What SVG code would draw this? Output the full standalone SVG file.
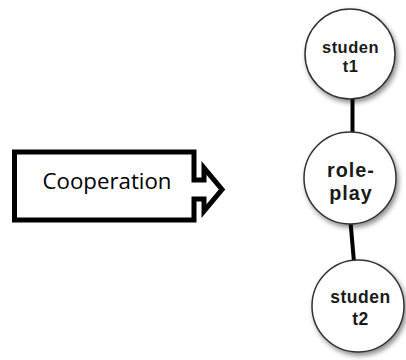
<svg xmlns="http://www.w3.org/2000/svg" width="406" height="360" viewBox="0 0 406 360">
<style>
.node circle{fill:#fff;stroke:#333;stroke-width:1.5;filter:url(#sh)}
.lbl{font-family:"Liberation Sans",Arial,sans-serif;font-weight:bold;fill:#1a1a1a;text-anchor:middle}
.conn{stroke:#000;stroke-width:4;fill:none}
</style>
<defs>
<filter id="sh" x="-20%" y="-20%" width="150%" height="150%">
<feDropShadow dx="2" dy="3" stdDeviation="2.5" flood-color="#000" flood-opacity="0.45"/>
</filter>
</defs>
<rect width="406" height="360" fill="#fff"/>
<g id="cooperation">
<path d="M14.5,152 H194 V180 H204 V168 L222,189.5 L204,211 V199 H194 V220 H14.5 Z" fill="#fff" stroke="#000" stroke-width="5" stroke-linejoin="miter"/>
<text x="107" y="189" font-family="'Open Sans','Noto Sans',sans-serif" font-size="22" fill="#000" text-anchor="middle" textLength="129" lengthAdjust="spacingAndGlyphs">Cooperation</text>
</g>
<g id="connectors">
<line class="conn" x1="352.5" y1="96" x2="352.5" y2="135"/>
<line class="conn" x1="350.5" y1="222" x2="354" y2="262"/>
</g>
<g id="student1" class="node">
<circle cx="350" cy="54" r="45"/>
<text class="lbl" font-size="16.5" letter-spacing="0.5"><tspan x="350.5" y="52.5">studen</tspan><tspan x="350.5" y="72">t1</tspan></text>
</g>
<g id="roleplay" class="node">
<circle cx="350" cy="178" r="46"/>
<text class="lbl" font-size="19.8" letter-spacing="1"><tspan x="351" y="176.5">role-</tspan><tspan x="351" y="199.5">play</tspan></text>
</g>
<g id="student2" class="node">
<circle cx="358" cy="306" r="46"/>
<text class="lbl" font-size="17.5" letter-spacing="0.5"><tspan x="360.5" y="303">studen</tspan><tspan x="360.5" y="324.5">t2</tspan></text>
</g>
</svg>
